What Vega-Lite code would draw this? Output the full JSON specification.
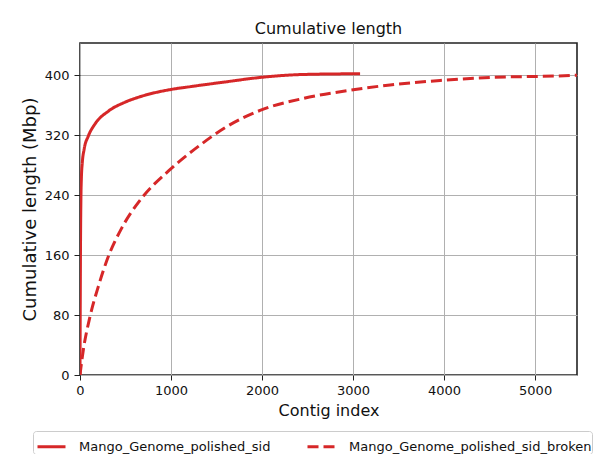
{
  "$schema": "https://vega.github.io/schema/vega-lite/v6.json",
  "width": 497,
  "height": 332,
  "autosize": {"type": "none"},
  "padding": {"left": 80, "top": 43, "right": 34, "bottom": 79},
  "background": "white",
  "title": {"text": "Cumulative length", "fontSize": 16, "font": "DejaVu Sans", "fontWeight": "normal", "color": "#111", "offset": 6, "anchor": "middle"},
  "config": {
    "font": "DejaVu Sans",
    "view": {"stroke": "#222", "strokeWidth": 1.6},
    "axis": {"domain": false, "grid": true, "gridColor": "#b0b0b0", "gridWidth": 1, "tickColor": "#222", "tickSize": 5, "labelFontSize": 13, "labelColor": "#111", "labelFont": "DejaVu Sans", "titleFont": "DejaVu Sans", "titleFontWeight": "normal", "titleColor": "#111"}
  },
  "data": {"values": [
    {"series": "Mango_Genome_polished_sid", "idx": 0, "len": 0},
    {"series": "Mango_Genome_polished_sid", "idx": 3, "len": 100},
    {"series": "Mango_Genome_polished_sid", "idx": 6, "len": 180},
    {"series": "Mango_Genome_polished_sid", "idx": 10, "len": 235},
    {"series": "Mango_Genome_polished_sid", "idx": 15, "len": 262},
    {"series": "Mango_Genome_polished_sid", "idx": 25, "len": 283},
    {"series": "Mango_Genome_polished_sid", "idx": 45, "len": 301},
    {"series": "Mango_Genome_polished_sid", "idx": 92, "len": 319},
    {"series": "Mango_Genome_polished_sid", "idx": 165, "len": 335},
    {"series": "Mango_Genome_polished_sid", "idx": 311, "len": 352},
    {"series": "Mango_Genome_polished_sid", "idx": 495, "len": 364},
    {"series": "Mango_Genome_polished_sid", "idx": 678, "len": 372},
    {"series": "Mango_Genome_polished_sid", "idx": 1000, "len": 381},
    {"series": "Mango_Genome_polished_sid", "idx": 1227, "len": 385},
    {"series": "Mango_Genome_polished_sid", "idx": 1593, "len": 391},
    {"series": "Mango_Genome_polished_sid", "idx": 1978, "len": 397},
    {"series": "Mango_Genome_polished_sid", "idx": 2454, "len": 401},
    {"series": "Mango_Genome_polished_sid", "idx": 3077, "len": 402},
    {"series": "Mango_Genome_polished_sid_broken", "idx": 0, "len": 0},
    {"series": "Mango_Genome_polished_sid_broken", "idx": 10, "len": 10},
    {"series": "Mango_Genome_polished_sid_broken", "idx": 36, "len": 33},
    {"series": "Mango_Genome_polished_sid_broken", "idx": 110, "len": 78},
    {"series": "Mango_Genome_polished_sid_broken", "idx": 201, "len": 118},
    {"series": "Mango_Genome_polished_sid_broken", "idx": 311, "len": 158},
    {"series": "Mango_Genome_polished_sid_broken", "idx": 458, "len": 196},
    {"series": "Mango_Genome_polished_sid_broken", "idx": 678, "len": 236},
    {"series": "Mango_Genome_polished_sid_broken", "idx": 970, "len": 272},
    {"series": "Mango_Genome_polished_sid_broken", "idx": 1300, "len": 305},
    {"series": "Mango_Genome_polished_sid_broken", "idx": 1593, "len": 330},
    {"series": "Mango_Genome_polished_sid_broken", "idx": 1978, "len": 353},
    {"series": "Mango_Genome_polished_sid_broken", "idx": 2450, "len": 369},
    {"series": "Mango_Genome_polished_sid_broken", "idx": 2967, "len": 380},
    {"series": "Mango_Genome_polished_sid_broken", "idx": 3407, "len": 387},
    {"series": "Mango_Genome_polished_sid_broken", "idx": 3956, "len": 393},
    {"series": "Mango_Genome_polished_sid_broken", "idx": 4505, "len": 397},
    {"series": "Mango_Genome_polished_sid_broken", "idx": 5238, "len": 399},
    {"series": "Mango_Genome_polished_sid_broken", "idx": 5460, "len": 400}
  ]},
  "mark": {"type": "line", "strokeWidth": 3, "interpolate": "monotone", "clip": true},
  "encoding": {
    "x": {"field": "idx", "type": "quantitative", "scale": {"domain": [0, 5460], "nice": false, "zero": false},
      "axis": {"values": [0, 1000, 2000, 3000, 4000, 5000], "format": "d", "title": "Contig index", "titleFontSize": 16, "titlePadding": 5, "labelPadding": 4, "labelFlush": false}},
    "y": {"field": "len", "type": "quantitative", "scale": {"domain": [0, 443], "nice": false},
      "axis": {"values": [0, 80, 160, 240, 320, 400], "format": "d", "title": "Cumulative length (Mbp)", "titleFontSize": 18, "titlePadding": 5, "labelPadding": 5, "tickSize": 6}},
    "color": {"field": "series", "type": "nominal",
      "scale": {"domain": ["Mango_Genome_polished_sid", "Mango_Genome_polished_sid_broken"], "range": ["#d62728", "#d62728"]},
      "legend": {"title": null, "orient": "none", "legendX": -47, "legendY": 388, "direction": "horizontal", "symbolType": "stroke", "symbolSize": 784, "symbolStrokeWidth": 3, "symbolOffset": 3, "labelFontSize": 13, "labelColor": "#111", "labelOffset": 12, "columnPadding": 30, "padding": 0, "strokeColor": "#cccccc", "fillColor": "white", "cornerRadius": 3, "labelLimit": 400}},
    "strokeDash": {"field": "series", "type": "nominal",
      "scale": {"domain": ["Mango_Genome_polished_sid", "Mango_Genome_polished_sid_broken"], "range": [[1, 0], [11, 5]]},
      "legend": {"title": null, "orient": "none", "legendX": -47, "legendY": 388, "direction": "horizontal", "symbolType": "stroke", "symbolSize": 784, "symbolStrokeWidth": 3, "symbolOffset": 3, "labelFontSize": 13, "labelColor": "#111", "labelOffset": 12, "columnPadding": 30, "padding": 0, "strokeColor": "#cccccc", "fillColor": "white", "cornerRadius": 3, "labelLimit": 400}}
  }
}
